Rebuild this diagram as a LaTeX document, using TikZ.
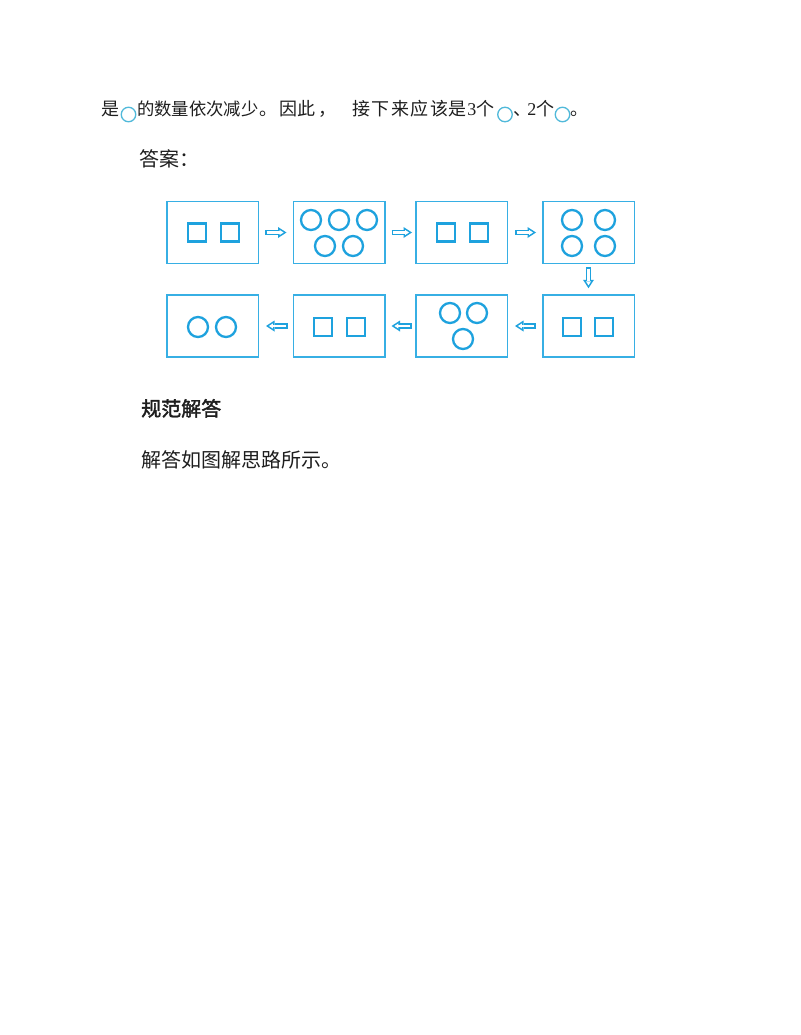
\documentclass[tikz,border=0pt]{standalone}
\usepackage{fontspec}
\setmainfont{Liberation Serif}
\newfontfamily\cjk{Noto Sans CJK SC}
\newfontfamily\cjkb[FakeBold=2]{Noto Sans CJK SC}
\newfontfamily\lsr{Liberation Serif}
\usetikzlibrary{arrows.meta,positioning}
\newlength\pxu
\setlength\pxu{0.75pt}
\definecolor{cblue}{RGB}{30,162,222}
\definecolor{cbox}{RGB}{55,175,228}
\definecolor{cinl}{RGB}{80,185,218}
\definecolor{ctxt}{RGB}{30,30,30}
\begin{document}
\begin{tikzpicture}[x=0.75pt,y=-0.75pt,
  tA/.style={inner sep=0pt, anchor=base west, text=ctxt, font={\fontsize{13.5}{16}\selectfont\cjk}},
  tAs/.style={inner sep=0pt, anchor=base west, text=ctxt, font={\fontsize{13}{16}\selectfont\cjk}},
  tB/.style={inner sep=0pt, anchor=base west, text=ctxt, font={\fontsize{15}{18}\selectfont\cjk}},
  tBb/.style={inner sep=0pt, anchor=base west, text=ctxt, font={\fontsize{15}{18}\selectfont\cjkb}},
  inl/.style={circle, draw=cinl, line width=1.3\pxu, minimum size=14.5\pxu, inner sep=0pt},
  bx/.style={draw=cbox, line width=1.5\pxu, minimum width=91.5\pxu, minimum height=62\pxu, inner sep=0pt},
  sq/.style={draw=cblue, line width=2.3\pxu, minimum size=18\pxu, inner sep=0pt},
  ci/.style={circle, draw=cblue, line width=2.3\pxu, minimum size=20\pxu, inner sep=0pt},
  conn/.style 2 args={draw=cblue, line width=4.125pt,
    -{Triangle[length=6.375pt, width=8.25pt, line width=0pt]},
    shorten <={#1*0.75pt}, shorten >={#2*0.75pt},
    postaction={draw=white, line width=1.65pt,
      -{Triangle[length=2.96pt, width=3.83pt, line width=0pt]},
      shorten <={(#1+1.6)*0.75pt}, shorten >={(#2+2.95)*0.75pt}}}
]
\useasboundingbox (0,0) rectangle (800,1035);
\fill[white] (0,0) rectangle (800,1035);

% first line
\node[tA] (l1a) at (101,115) {是};
\node[inl] (l1c1) at (128.5,114.5) {};
\node[tAs] (l1b) at (137,115) {的数量依次减少};
\node[tA] (l1p1) at (259,115) {。};
\node[tA] (l1c) at (279,115) {因此};
\node[tA] (l1p2) at (318,115) {，};
\node[tA] (l1d) at (352,115) {接\kern1.1pt 下\kern1.1pt 来\kern1.1pt 应\kern1.1pt 该\kern0.3pt 是};
\node[tA] (l1d3) at (467,115) {{\lsr 3}个};
\node[inl] (l1c2) at (505,114.5) {};
\node[tA] (l1p3) at (513,115) {、};
\node[tA] (l1e) at (527,115) {{\lsr 2}个};
\node[inl] (l1c3) at (562.5,114.5) {};
\node[tA] (l1p4) at (570,115) {。};

\node[tB] (ans) at (139,166.5) {答案：};
\node[tBb] (hd) at (141,416) {规范解答};
\node[tB] (sol) at (141,467.5) {解答如图解思路所示。};

% boxes
\node[bx] (b1) at (212.5,232.5) {};
\node[bx] (b2) at (339,232.5) {};
\node[bx] (b3) at (461.5,232.5) {};
\node[bx] (b4) at (588.5,232.5) {};
\node[bx] (b5) at (588.5,326) {};
\node[bx] (b6) at (461.5,326) {};
\node[bx] (b7) at (339,326) {};
\node[bx] (b8) at (212.5,326) {};

% contents
\node[sq] (b1s1) at (197,232.5) {};
\node[sq] (b1s2) at (230,232.5) {};

\node[ci] (b2c1) at (311,220) {};
\node[ci] (b2c2) at (339,220) {};
\node[ci] (b2c3) at (367,220) {};
\node[ci] (b2c4) at (325,246) {};
\node[ci] (b2c5) at (353,246) {};

\node[sq] (b3s1) at (446,232.5) {};
\node[sq] (b3s2) at (479,232.5) {};

\node[ci] (b4c1) at (572,220) {};
\node[ci] (b4c2) at (605,220) {};
\node[ci] (b4c3) at (572,246) {};
\node[ci] (b4c4) at (605,246) {};

\node[sq] (b5s1) at (572,327) {};
\node[sq] (b5s2) at (604,327) {};

\node[ci] (b6c1) at (450,313) {};
\node[ci] (b6c2) at (477,313) {};
\node[ci] (b6c3) at (463,339) {};

\node[sq] (b7s1) at (323,327) {};
\node[sq] (b7s2) at (356,327) {};

\node[ci] (b8c1) at (198,327) {};
\node[ci] (b8c2) at (226,327) {};

% connectors
\draw[conn={6}{6}] (b1) -- (b2);
\draw[conn={6}{3}] (b2) -- (b3);
\draw[conn={7}{6}] (b3) -- (b4);
\draw[conn={3}{6}] (b4) -- (b5);
\draw[conn={6}{7}] (b5) -- (b6);
\draw[conn={3}{6}] (b6) -- (b7);
\draw[conn={5}{7}] (b7) -- (b8);
\end{tikzpicture}
\end{document}
